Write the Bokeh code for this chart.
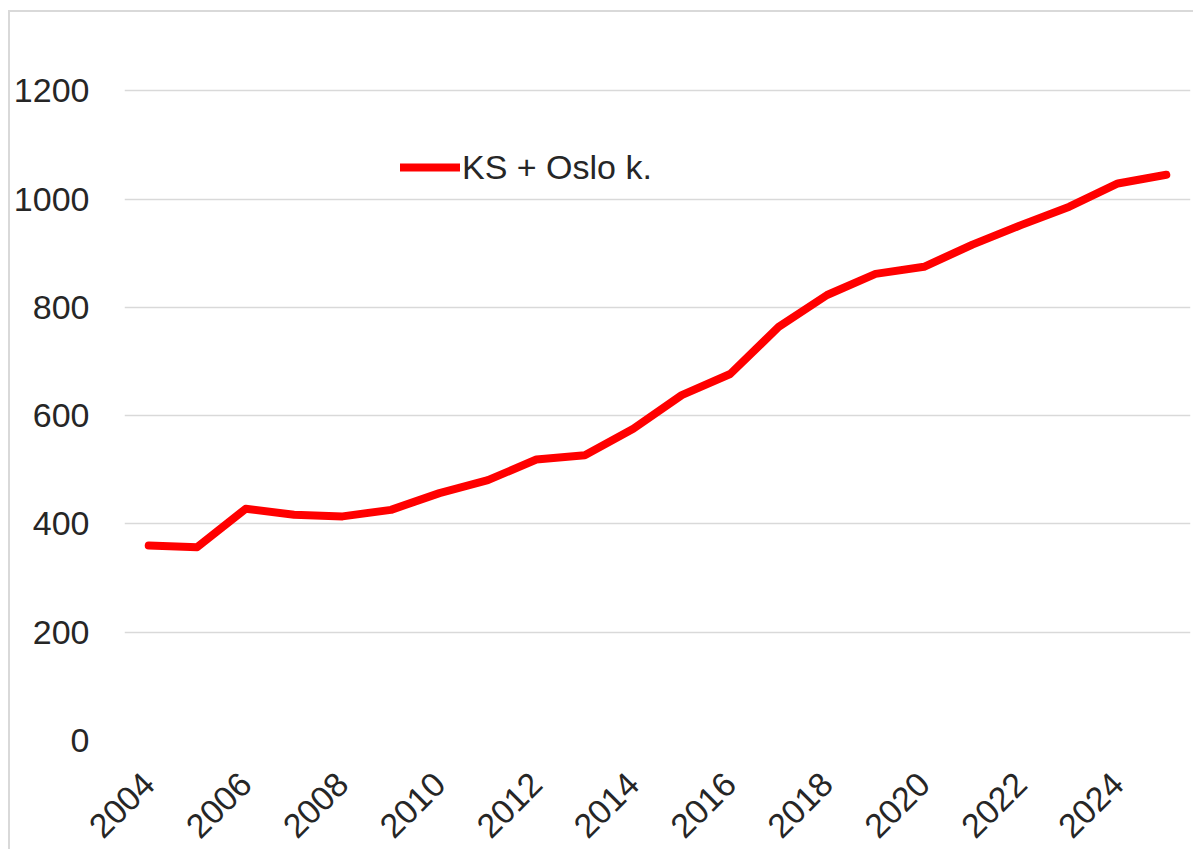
import math
from bokeh.plotting import figure
from bokeh.models import ColumnDataSource, Range1d, FixedTicker, Legend, LegendItem
from bokeh.embed import file_html
from bokeh.resources import INLINE

years = [2004, 2005, 2006, 2007, 2008, 2009, 2010, 2011, 2012, 2013, 2014,
         2015, 2016, 2017, 2018, 2019, 2020, 2021, 2022, 2023, 2024, 2025]
values = [360, 357, 428, 417, 414, 426, 457, 481, 519, 527, 576,
          638, 677, 764, 823, 862, 875, 916, 952, 986, 1029, 1045]
series_name = "KS + Oslo k."
x_ticks = [2004, 2006, 2008, 2010, 2012, 2014, 2016, 2018, 2020, 2022, 2024]
y_ticks = [0, 200, 400, 600, 800, 1000, 1200]

FONT = "Liberation Sans"
TXT = "#262626"

src = ColumnDataSource(dict(x=years, y=values))

p = figure(width=1185, height=839, output_backend="svg", toolbar_location=None,
           x_range=Range1d(2003.5, 2025.5), y_range=Range1d(0, 1330),
           min_border_left=114, min_border_right=5, min_border_top=8,
           min_border_bottom=111)
p.styles = {"border-left": "2px solid #d9d9d9", "border-top": "2px solid #d9d9d9",
            "margin-left": "8px", "margin-top": "10px"}
p.outline_line_color = None
p.background_fill_color = "white"
p.border_fill_color = "white"

r = p.line("x", "y", source=src, line_color="#ff0000", line_width=8,
           line_join="round", line_cap="round")

for ax in (p.xaxis[0], p.yaxis[0]):
    ax.axis_line_color = None
    ax.major_tick_line_color = None
    ax.minor_tick_line_color = None
    ax.major_tick_in = 0
    ax.major_tick_out = 0
    ax.minor_tick_in = 0
    ax.minor_tick_out = 0
    ax.major_label_text_font = FONT
    ax.major_label_text_font_size = "34px"
    ax.major_label_text_color = TXT

p.xaxis.ticker = FixedTicker(ticks=x_ticks)
p.yaxis.ticker = FixedTicker(ticks=y_ticks)
p.xaxis.major_label_orientation = math.pi / 4
p.xaxis.major_label_standoff = 38
p.yaxis.major_label_standoff = 35

p.xgrid.grid_line_color = None
p.ygrid.ticker = FixedTicker(ticks=y_ticks)
p.ygrid.grid_line_color = "#d9d9d9"
p.ygrid.grid_line_width = 1.5

legend = Legend(items=[LegendItem(label=series_name, renderers=[r])],
                location=(276, 553), orientation="horizontal")
legend.label_text_font = FONT
legend.label_text_font_size = "34px"
legend.label_text_color = TXT
legend.glyph_width = 60
legend.glyph_height = 40
legend.label_height = 40
legend.label_standoff = 2
legend.padding = 0
legend.margin = 0
legend.spacing = 0
legend.border_line_color = None
legend.background_fill_alpha = 0
p.add_layout(legend, "center")

open("out.html", "w").write(file_html(p, INLINE))
